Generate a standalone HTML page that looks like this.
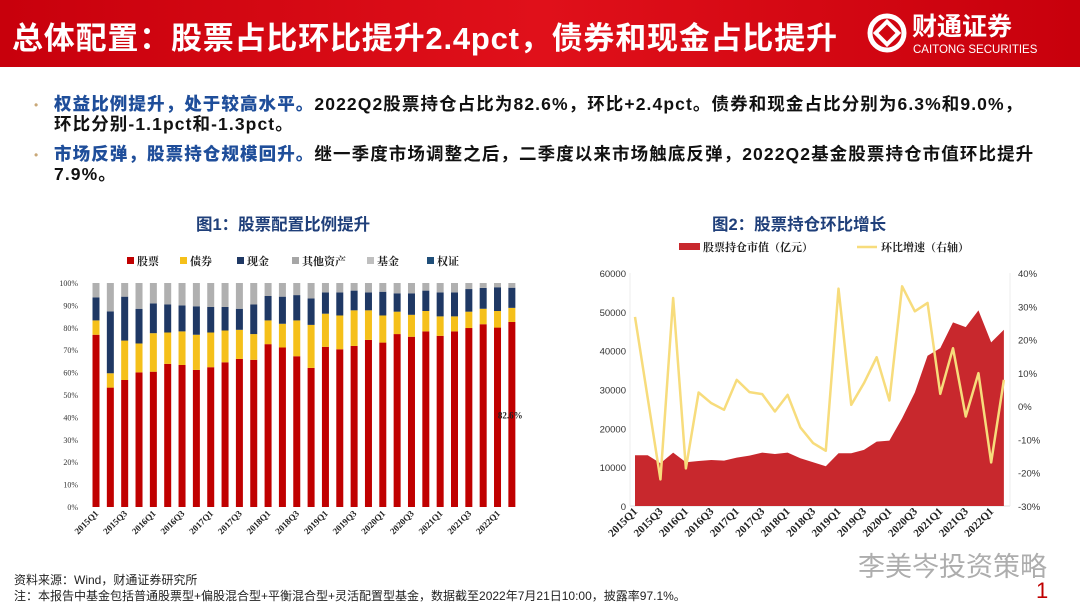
<!DOCTYPE html>
<html><head><meta charset="utf-8">
<style>
body{margin:0;width:1080px;height:608px;background:#fff;overflow:hidden;font-family:"Liberation Sans","Noto Sans CJK SC",sans-serif;}
#hdr{position:absolute;left:0;top:0;width:1080px;height:67px;background:linear-gradient(90deg,#c8000c,#e0101a 50%,#c8000c);}
#title{position:absolute;left:12px;top:13px;color:#fff;font-size:31px;font-weight:bold;white-space:nowrap;letter-spacing:0.8px}
.bul{position:absolute;left:54px;font-size:17.5px;font-weight:bold;color:#111;line-height:20px;width:1020px;white-space:nowrap;letter-spacing:1.1px}
.bul b{color:#1f4e9a}
.dot{position:absolute;left:34px;color:#c9a878;font-size:12px}
.ct{position:absolute;font-size:16.5px;font-weight:bold;color:#1f3f7a}
.foot{position:absolute;left:14px;font-size:12px;color:#222;white-space:nowrap}
svg{position:absolute;left:0;top:0}
</style></head><body>
<div id="hdr"></div>
<div id="title">总体配置：股票占比环比提升2.4pct，债券和现金占比提升</div>
<svg width="1080" height="70">
<circle cx="887" cy="33" r="17" fill="none" stroke="#fff" stroke-width="5"/>
<rect x="879" y="25" width="16" height="16" fill="none" stroke="#fff" stroke-width="4" transform="rotate(45 887 33)"/>
<text x="912" y="35" fill="#fff" font-size="25" font-weight="bold" font-family="Liberation Sans,Noto Sans CJK SC,sans-serif">财通证券</text>
<text x="913" y="53" fill="#fff" font-size="11.5" font-family="Liberation Sans,sans-serif">CAITONG SECURITIES</text>
</svg>
<div class="dot" style="top:98px">•</div>
<div class="bul" style="top:94px"><b>权益比例提升，处于较高水平。</b>2022Q2股票持仓占比为82.6%，环比+2.4pct。债券和现金占比分别为6.3%和9.0%，<br>环比分别-1.1pct和-1.3pct。</div>
<div class="dot" style="top:148px">•</div>
<div class="bul" style="top:144px"><b>市场反弹，股票持仓规模回升。</b>继一季度市场调整之后，二季度以来市场触底反弹，2022Q2基金股票持仓市值环比提升<br>7.9%。</div>
<div class="ct" style="left:196px;top:211px">图1：股票配置比例提升</div>
<div class="ct" style="left:712px;top:211px">图2：股票持仓环比增长</div>
<div class="foot" style="top:571px">资料来源：Wind，财通证券研究所</div>
<div class="foot" style="top:587px">注：本报告中基金包括普通股票型+偏股混合型+平衡混合型+灵活配置型基金，数据截至2022年7月21日10:00，披露率97.1%。</div>
<div style="position:absolute;left:858px;top:545px;font-size:27px;color:#999;opacity:0.8">李美岑投资策略</div>
<div style="position:absolute;left:1036px;top:578px;font-size:22px;color:#c00000">1</div>
<svg id="c" width="1080" height="608"></svg>
<script>
const quarters=[];for(let y=2015;y<=2022;y++)for(let q=1;q<=4;q++)if(!(y==2022&&q>2))quarters.push(y+'Q'+q);
const stockPct=[76.9,53.3,56.7,60.1,60.4,63.9,63.4,61.2,62.4,64.6,66.1,65.7,72.7,71.2,67.3,62.1,71.5,70.4,71.9,74.6,73.4,77.2,76.0,78.4,76.4,78.4,79.9,81.6,80.1,82.6];
const bondPct=[6.4,6.4,17.6,12.9,17.2,14.0,15.0,15.7,15.5,14.2,13.0,11.5,10.6,10.6,16.0,19.2,14.8,15.1,15.9,13.2,12.1,10.0,9.8,9.1,8.7,6.7,7.3,6.9,7.4,6.3];
const cashPct=[10.3,27.6,19.6,15.5,13.3,12.5,11.6,12.7,11.4,10.5,9.4,13.2,10.9,12.1,11.3,11.8,9.5,10.3,8.8,8.0,10.6,8.2,9.6,9.1,10.7,10.7,10.1,9.3,10.6,9.0];
const marketValue=[13066,13066,11000,13750,11260,11600,11860,11690,12460,12980,13750,13400,13750,12300,11260,10230,13580,13580,14440,16590,16850,22600,29230,38680,40660,47280,46070,50370,42120,45390];
const growthPct=[26.8,2.4,-22,32.5,-18.7,4.1,0.9,-1.1,7.9,4.2,3.6,-1.6,3.4,-6.4,-11.1,-13.4,35.3,0.4,6.9,14.7,1.7,36,28.5,31,3.7,17.4,-3.1,9.9,-16.9,7.9];
const pctTicks=[0,10,20,30,40,50,60,70,80,90,100];
const leftTicks=[0,10000,20000,30000,40000,50000,60000];
const rightTicks=[-30,-20,-10,0,10,20,30,40];
const NS='http://www.w3.org/2000/svg',svg=document.getElementById('c');
function mk(t,a,txt){const e=document.createElementNS(NS,t);for(const k in a)e.setAttribute(k,a[k]);if(txt!=null)e.textContent=txt;svg.appendChild(e);return e;}
// chart 1
const y1=v=>507-v/100*224, x1=i=>96+i*14.34;
pctTicks.forEach(t=>{const e=mk('text',{x:78,y:y1(t)+3,'text-anchor':'end','font-size':8,fill:'#333','font-family':'Liberation Serif,serif'},t+'%');
});
quarters.forEach((q,i)=>{
 const s=stockPct[i],b=bondPct[i],c=cashPct[i],w=7,x=x1(i)-w/2;
 const segs=[[0,s,'#c00000','bar-stock'],[s,s+b,'#f5c01a','bar-bond'],[s+b,s+b+c,'#1f3864','bar-cash'],[s+b+c,100,'#b0b0b0','bar-other']];
 segs.forEach(g=>{const r=mk('rect',{x:x,y:y1(g[1]),width:w,height:Math.max(0,y1(g[0])-y1(g[1])),fill:g[2]});
 });
 if(i%2==0){const t=mk('text',{x:x1(i)+3,y:514,'text-anchor':'end','font-size':9,'font-weight':'bold',fill:'#222','font-family':'Liberation Serif,serif',transform:`rotate(-45 ${x1(i)+3} 514)`},q);
 }
});
const lbl=mk('text',{x:x1(29)-14,y:y1(stockPct[29]/2)+4,'font-size':9,'font-weight':'bold',fill:'#222','font-family':'Liberation Serif,serif'},stockPct[29]+'%');

const leg1=[['股票','#c00000',127],['债券','#f5c01a',180],['现金','#1f3864',237],['其他资产','#a6a6a6',292],['基金','#bfbfbf',367],['权证','#1f4e79',427]];
leg1.forEach(l=>{const r=mk('rect',{x:l[2],y:257,width:7,height:7,fill:l[1]});
const t=mk('text',{x:l[2]+10,y:265,'font-size':11,'font-weight':'bold',fill:'#222','font-family':'Noto Serif CJK SC,serif'},l[0]);});
// chart 2
const x2=i=>635+i*12.72, yl=v=>506-v/60000*233, yr=v=>506-(v+30)/70*233;
leftTicks.forEach(t=>{const e=mk('text',{x:626,y:yl(t)+4,'text-anchor':'end','font-size':9.5,fill:'#333'},t);});
rightTicks.forEach(t=>{const e=mk('text',{x:1018,y:yr(t)+4,'font-size':9.5,fill:'#333'},t+'%');});
mk('line',{x1:630,y1:506,x2:1010,y2:506,stroke:'#ddd'});
mk('line',{x1:630,y1:273,x2:630,y2:506,stroke:'#eee'});
mk('line',{x1:1010,y1:273,x2:1010,y2:506,stroke:'#eee'});
let d=`M${x2(0)},506`;marketValue.forEach((v,i)=>d+=` L${x2(i)},${yl(v)}`);d+=` L${x2(29)},506Z`;
const ar=mk('path',{d:d,fill:'#c8282d'});
const ln=mk('polyline',{points:growthPct.map((v,i)=>x2(i)+','+yr(v)).join(' '),fill:'none',stroke:'#f7dc7c','stroke-width':2.5,'stroke-linejoin':'round'});

quarters.forEach((q,i)=>{if(i%2==0){const t=mk('text',{x:x2(i)+3,y:512,'text-anchor':'end','font-size':11,'font-weight':'bold',fill:'#222','font-family':'Liberation Serif,serif',transform:`rotate(-45 ${x2(i)+3} 512)`},q);
}});
const lr=mk('rect',{x:679,y:243,width:21,height:7,fill:'#c8282d'});
const lt=mk('text',{x:703,y:251,'font-size':11,'font-weight':'bold',fill:'#222','font-family':'Noto Serif CJK SC,serif'},'股票持仓市值（亿元）');
const ll=mk('line',{x1:857,y1:247,x2:877,y2:247,stroke:'#f7dc7c','stroke-width':2.5});
const lt2=mk('text',{x:881,y:251,'font-size':11,'font-weight':'bold',fill:'#222','font-family':'Noto Serif CJK SC,serif'},'环比增速（右轴）');
</script>
</body></html>
